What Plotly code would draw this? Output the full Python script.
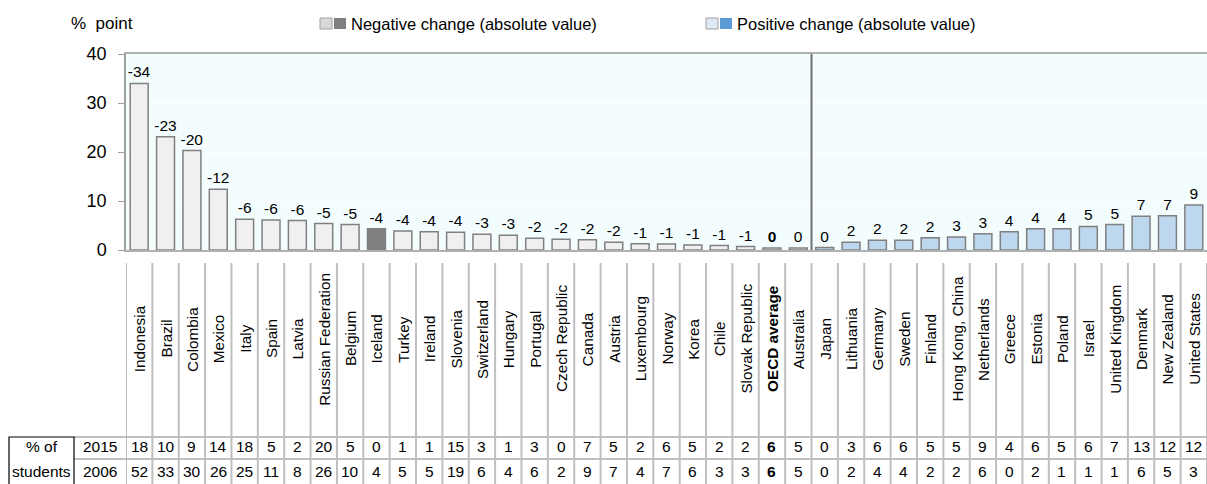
import plotly.graph_objects as go

# ---- data ----
countries = ["Indonesia", "Brazil", "Colombia", "Mexico", "Italy", "Spain", "Latvia",
             "Russian Federation", "Belgium", "Iceland", "Turkey", "Ireland", "Slovenia",
             "Switzerland", "Hungary", "Portugal", "Czech Republic", "Canada", "Austria",
             "Luxembourg", "Norway", "Korea", "Chile", "Slovak Republic", "OECD average",
             "Australia", "Japan", "Lithuania", "Germany", "Sweden", "Finland",
             "Hong Kong, China", "Netherlands", "Greece", "Estonia", "Poland", "Israel",
             "United Kingdom", "Denmark", "New Zealand", "United States"]

# absolute change in % point (bar heights)
abs_change = [34.0, 23.1, 20.3, 12.4, 6.3, 6.1, 6.0, 5.4, 5.2, 4.35, 3.9, 3.7, 3.6,
              3.2, 3.0, 2.4, 2.2, 2.1, 1.6, 1.3, 1.2, 1.0, 0.9, 0.7, 0.4, 0.4,
              0.5, 1.6, 2.0, 2.0, 2.5, 2.65, 3.3, 3.7, 4.35, 4.35, 4.8, 5.2, 6.9, 7.0, 9.2]

# rounded signed change shown above bars
change_labels = [-34, -23, -20, -12, -6, -6, -6, -5, -5, -4, -4, -4, -4, -3, -3, -2, -2,
                 -2, -2, -1, -1, -1, -1, -1, 0, 0,
                 0, 2, 2, 2, 2, 3, 3, 4, 4, 4, 5, 5, 7, 7, 9]

pct_2015 = [18, 10, 9, 14, 18, 5, 2, 20, 5, 0, 1, 1, 15, 3, 1, 3, 0, 7, 5, 2, 6, 5, 2, 2,
            6, 5, 0, 3, 6, 6, 5, 5, 9, 4, 6, 5, 6, 7, 13, 12, 12]
pct_2006 = [52, 33, 30, 26, 25, 11, 8, 26, 10, 4, 5, 5, 19, 6, 4, 6, 2, 9, 7, 4, 7, 6, 3, 3,
            6, 5, 0, 2, 4, 4, 2, 2, 6, 0, 2, 1, 1, 1, 6, 5, 3]

n_negative = 26           # first 26 entries are negative changes
highlight = ["Iceland"]   # dark-shaded bar
bold = ["OECD average"]

# ---- styling ----
FONT = "Liberation Sans, Arial, sans-serif"
W, H = 1207, 484
L, R, T, B = 126, 0, 54, 234
PW, PH = W - L - R, H - T - B


def px(x):
    return (x - L) / PW


def py(y):
    return (H - B - y) / PH


colors = []
for i, c in enumerate(countries):
    if c in highlight:
        colors.append("#7f7f7f")
    elif i < n_negative:
        colors.append("#f0f0f0")
    else:
        colors.append("#bdd7ee")


def fmt(v, c):
    return f"<b>{v}</b>" if c in bold else str(v)


fig = go.Figure()
fig.add_trace(go.Bar(
    x=list(range(len(countries))),
    y=abs_change,
    marker=dict(color=colors, line=dict(color="#808080", width=1.5)),
    text=[fmt(v, c) for v, c in zip(change_labels, countries)],
    textposition="outside",
    textfont=dict(family=FONT, size=15.5, color="black"),
    constraintext="none",
    cliponaxis=False,
    width=0.68,
    hoverinfo="skip",
    showlegend=False,
))

shapes = []
annotations = []

# separator between negative and positive groups
shapes.append(dict(type="line", xref="x", yref="y", x0=n_negative - 0.5, x1=n_negative - 0.5,
                   y0=0, y1=40, line=dict(color="#707070", width=2)))

# column dividers below the chart
for i in range(len(countries) + 1):
    shapes.append(dict(type="line", xref="x", yref="paper", x0=i - 0.5, x1=i - 0.5,
                       y0=py(263), y1=py(486), line=dict(color="#bfbfbf", width=2)))

# table horizontal lines
for yy in (437, 459):
    shapes.append(dict(type="line", xref="paper", yref="paper", x0=px(74), x1=1,
                       y0=py(yy), y1=py(yy), line=dict(color="#bfbfbf", width=2)))
# header box
shapes.append(dict(type="rect", xref="paper", yref="paper", x0=px(9), x1=px(74),
                   y0=py(437), y1=py(490), line=dict(color="black", width=1.2)))

# country names and table values
for i, c in enumerate(countries):
    annotations.append(dict(x=i, y=py(339), xref="x", yref="paper", text=fmt(c, c),
                            textangle=-90, showarrow=False, xanchor="center", yanchor="middle",
                            font=dict(family=FONT, size=15.3, color="black")))
    annotations.append(dict(x=i, y=py(447), xref="x", yref="paper", text=fmt(pct_2015[i], c),
                            showarrow=False, xanchor="center", yanchor="middle",
                            font=dict(family=FONT, size=15.5, color="black")))
    annotations.append(dict(x=i, y=py(471), xref="x", yref="paper", text=fmt(pct_2006[i], c),
                            showarrow=False, xanchor="center", yanchor="middle",
                            font=dict(family=FONT, size=15.5, color="black")))

# row headers
for txt, xx, yy in [("% of", 41.5, 447), ("students", 41.5, 471),
                    ("2015", 100, 447), ("2006", 100, 471)]:
    annotations.append(dict(x=px(xx), y=py(yy), xref="paper", yref="paper", text=txt,
                            showarrow=False, xanchor="center", yanchor="middle",
                            font=dict(family=FONT, size=15.5, color="black")))

# axis title
annotations.append(dict(x=px(69), y=py(24), xref="paper", yref="paper", text="%  point",
                        showarrow=False, xanchor="left", yanchor="middle",
                        font=dict(family=FONT, size=17, color="black")))

# custom legend
legend_items = [
    ("Negative change (absolute value)", 320, "#d9d9d9", "#808080"),
    ("Positive change (absolute value)", 706, "#deebf7", "#5b9bd5"),
]
for label, x0, light, dark in legend_items:
    shapes.append(dict(type="rect", xref="paper", yref="paper", x0=px(x0), x1=px(x0 + 12),
                       y0=py(29), y1=py(18), fillcolor=light,
                       line=dict(color="#a0a0a0", width=1)))
    shapes.append(dict(type="rect", xref="paper", yref="paper", x0=px(x0 + 14), x1=px(x0 + 26),
                       y0=py(29), y1=py(18), fillcolor=dark, line=dict(width=0)))
    annotations.append(dict(x=px(x0 + 29), y=py(24), xref="paper", yref="paper", text=label,
                            showarrow=False, xanchor="left", yanchor="middle",
                            font=dict(family=FONT, size=16.5, color="black")))

fig.update_layout(
    width=W, height=H,
    margin=dict(l=L, r=R, t=T, b=B),
    paper_bgcolor="white",
    plot_bgcolor="#f4fdfe",
    shapes=shapes,
    annotations=annotations,
    xaxis=dict(range=[-0.5, len(countries) - 0.5], showticklabels=False, ticks="",
               showgrid=False, zeroline=False, showline=True, mirror=True,
               linecolor="#b0b0b0", linewidth=1.5, fixedrange=True),
    yaxis=dict(range=[0, 40], tickvals=[0, 10, 20, 30, 40], ticks="outside", ticklen=6,
               tickcolor="#a0a0a0", showline=True, linecolor="#a0a0a0", linewidth=1.5,
               showgrid=True, gridcolor="#ffffff", zeroline=False, ticklabelstandoff=8,
               tickfont=dict(family=FONT, size=18, color="black"), fixedrange=True),
    font=dict(family=FONT, color="black"),
)

# remove the default page margin so the figure fills the window exactly
fig.write_html("out.html", config={"displayModeBar": False},
               post_script="document.body.style.margin='0';document.body.style.overflow='hidden';")
